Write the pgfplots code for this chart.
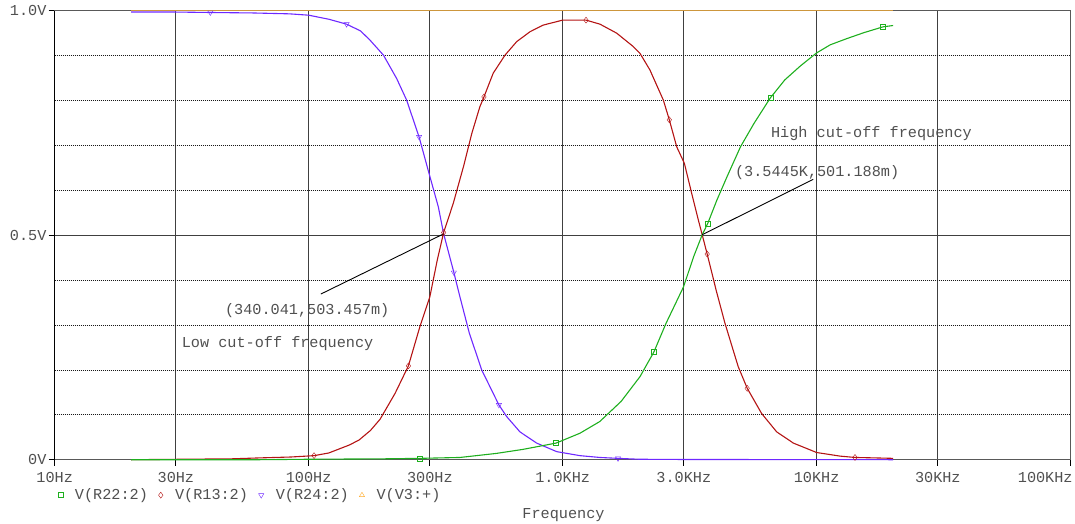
\documentclass[border=0pt]{standalone}
\usepackage{pgfplots}
\pgfplotsset{compat=1.18}
\usepackage{fontspec}
\setmainfont{Liberation Mono}
\definecolor{cgreen}{RGB}{30,175,30}
\definecolor{cred}{RGB}{180,20,20}
\definecolor{cpurple}{RGB}{110,40,255}
\definecolor{corange}{RGB}{205,150,60}
\definecolor{corangeleg}{RGB}{255,170,40}
\definecolor{ctext}{RGB}{80,80,80}
\pgfplotsset{legimg/.style={legend image code/.code={\draw[##1] plot coordinates {(0pt,0pt)};}}}
\newcommand{\pf}{\fontsize{15.2}{18}\selectfont}
\begin{document}
\pf
\begin{tikzpicture}
\useasboundingbox (0,0) rectangle (1075pt,523pt);
\begin{axis}[
 at={(54.7pt,63.3pt)}, anchor=south west,
 scale only axis, width=1016pt, height=449pt,
 xmode=log, xmin=10, xmax=100000, ymin=0, ymax=1,
 clip=false,
 xtick={10,30,100,300,1000,3000,10000,30000,100000},
 xticklabels={10Hz,30Hz,100Hz,300Hz,1.0KHz,3.0KHz,10KHz,30KHz,\makebox[4pt][r]{100KHz}},
 ytick={0,0.5,1}, yticklabels={0V,0.5V,1.0V},
 minor ytick={0.1,0.2,0.3,0.4,0.6,0.7,0.8,0.9},
 xminorticks=false,
 xmajorgrids, ymajorgrids, yminorgrids,
 major grid style={black!75, line width=0.8pt},
 minor grid style={black!90, line width=0.7pt, dash pattern=on 1pt off 1pt},
 minor tick length=0pt,
 tick align=outside, major tick length=6pt,
 tick pos=left,
 tick style={black, line width=0.8pt},
 axis line style={black!65, line width=0.9pt},
 tick label style={font=\pf, text=ctext},
 yticklabel style={xshift=3pt},
 xticklabel style={yshift=-1pt},
 xlabel={Frequency},
 xlabel style={at={(axis description cs:0.5008,-0.1225)}, anchor=center, font=\pf, text=ctext},
 legend columns=4,
 legend cell align=left,
 legend style={draw=none, fill=none, at={(axis description cs:0.003,-0.079)}, anchor=west,
   font=\pf, text=ctext, inner sep=0pt, column sep=10pt,
   /tikz/every even column/.append style={column sep=8.6pt}},
]
\addlegendimage{legimg, cgreen, mark=square, mark size=2.5pt}
\addlegendentry{V(R22:2)}
\addlegendimage{legimg, cred, mark=diamond, mark size=3pt}
\addlegendentry{V(R13:2)}
\addlegendimage{legimg, cpurple, mark=triangle, mark size=3pt, mark options={rotate=180}}
\addlegendentry{V(R24:2)}
\addlegendimage{legimg, corangeleg, mark=triangle, mark size=3pt}
\addlegendentry{V(V3:+)}

% V(V3:+)
\addplot[corange, line width=1.3pt, forget plot] coordinates {(20,1.0)(20000,1.0)};

% V(R24:2) purple
\addplot[cpurple, line width=1.1pt, forget plot] coordinates {
(20,0.997)(30,0.997)(41,0.996)(60,0.995)(84,0.993)(100,0.990)(120,0.981)(141,0.970)
(160,0.955)(174,0.935)(197,0.901)(222,0.849)(243,0.801)(272,0.719)(299,0.634)(324,0.563)
(340,0.503)(373,0.417)(394,0.363)(429,0.282)(480,0.200)(561,0.122)(602,0.096)(679,0.062)
(790,0.037)(947,0.018)(1170,0.009)(1400,0.005)(1652,0.003)(2000,0.001)(3000,0.0005)(20000,0.0)};

% V(R13:2) red
\addplot[cred, line width=1.1pt, forget plot] coordinates {
(20,0.0)(50,0.002)(64,0.004)(85,0.006)(105,0.009)(120,0.015)(145,0.033)(158,0.044)(175,0.065)
(191,0.090)(219,0.148)(247,0.209)(274,0.296)(300,0.363)(321,0.445)(340,0.506)(371,0.571)
(407,0.653)(439,0.727)(472,0.786)(490,0.808)(517,0.842)(533,0.861)(593,0.901)(659,0.931)
(743,0.953)(839,0.968)(1000,0.979)(1236,0.979)(1403,0.970)(1632,0.950)(1898,0.920)(2016,0.905)
(2206,0.868)(2491,0.801)(2630,0.757)(2812,0.697)(3015,0.660)(3222,0.593)(3421,0.534)(3544,0.501)
(3707,0.458)(4036,0.374)(4355,0.304)(4913,0.207)(5330,0.159)(6072,0.103)(6962,0.062)
(8098,0.037)(10000,0.016)(12360,0.008)(14160,0.005)(17000,0.004)(20000,0.003)};

% V(R22:2) green
\addplot[cgreen, line width=1.1pt, forget plot] coordinates {
(20,0.0)(64,0.0)(100,0.001)(200,0.002)(273,0.003)(394,0.005)(548,0.014)(698,0.023)(942,0.037)
(1170,0.059)(1400,0.085)(1700,0.13)(2016,0.185)(2287,0.240)(2554,0.304)(2992,0.385)(3278,0.452)
(3544,0.501)(3725,0.526)(4047,0.578)(4436,0.630)(5015,0.697)(5668,0.749)(6575,0.806)(7498,0.846)
(8632,0.877)(10000,0.906)(11310,0.924)(13170,0.938)(15330,0.951)(18250,0.964)(20000,0.967)};

% markers
\addplot[only marks, cgreen, mark=square, mark size=2.5pt, forget plot] coordinates {
(273,0.003)(942,0.037)(2287,0.240)(3725,0.526)(6575,0.806)(18250,0.964)};
\addplot[only marks, cred, mark=diamond, mark size=3pt, forget plot] coordinates {
(105,0.009)(247,0.209)(340,0.506)(490,0.808)(1236,0.979)(2630,0.757)(3707,0.458)(5330,0.159)(14160,0.005)};
\addplot[only marks, cpurple, mark=triangle, mark size=3pt, mark options={rotate=180}, forget plot] coordinates {
(41,0.996)(141,0.970)(272,0.719)(373,0.417)(561,0.122)(1652,0.003)};

\draw[black, line width=0.9pt] (rel axis cs:0,0) -- (rel axis cs:0,1);

% annotations
\draw[black, line width=0.9pt] (axis cs:340,0.503) -- (axis cs:111.7,0.369);
\draw[black, line width=0.9pt] (axis cs:3544,0.501) -- (axis cs:9697,0.6245);
\node[anchor=west, inner sep=0pt, text=ctext, font=\pf] at (axis cs:46.8,0.333) {(340.041,503.457m)};
\node[anchor=west, inner sep=0pt, text=ctext, font=\pf] at (axis cs:31.6,0.259) {Low cut-off frequency};
\node[anchor=west, inner sep=0pt, text=ctext, font=\pf] at (axis cs:4764,0.639) {(3.5445K,501.188m)};
\node[anchor=west, inner sep=0pt, text=ctext, font=\pf] at (axis cs:6607,0.727) {High cut-off frequency};
\end{axis}
\end{tikzpicture}
\end{document}
